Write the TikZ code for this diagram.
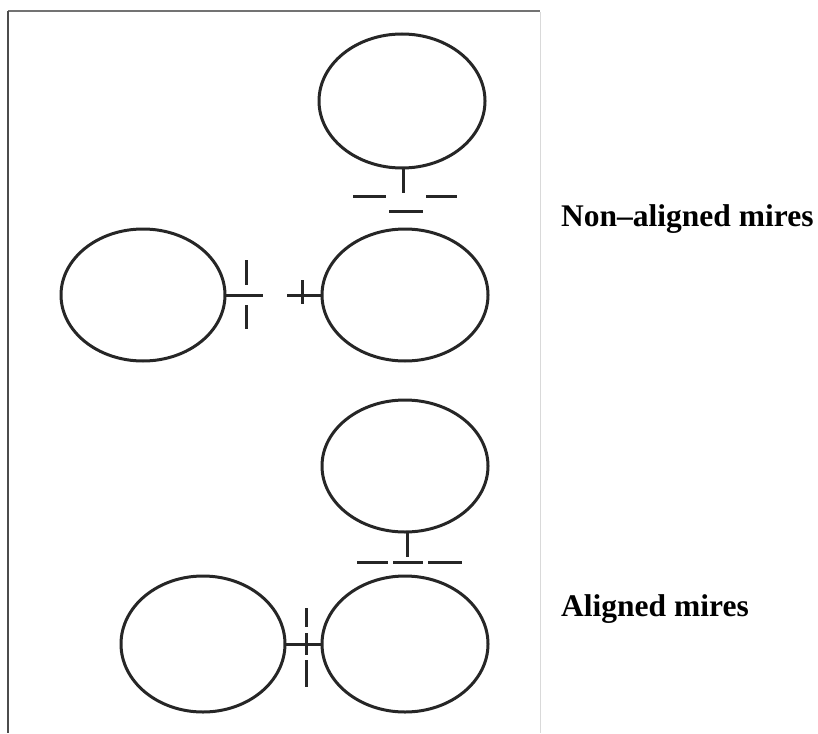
\documentclass[tikz,border=0pt]{standalone}
\usepackage{fontspec}
\setmainfont{Liberation Serif}
\begin{document}
\begin{tikzpicture}[x=1pt,y=-1pt,
  ring/.style={draw=black!85,line width=3pt},
  mire/.style={draw=black!85,line width=3pt},
  lbl/.style={inner sep=0pt,anchor=base west,font=\fontsize{31.5}{38}\selectfont\bfseries}]
\useasboundingbox (0,0) rectangle (818,733);
% frame
\draw[black!55,line width=2.4pt] (8,11) -- (540,11);
\draw[black!70,line width=2pt] (8,11) -- (8,733);
\draw[black!15,line width=1pt] (540,12) -- (540,733);
% ellipses
\draw[ring] (402,101) ellipse [x radius=83,y radius=67];
\draw[ring] (143,295) ellipse [x radius=82,y radius=66];
\draw[ring] (405,295) ellipse [x radius=83,y radius=66];
\draw[ring] (405,466) ellipse [x radius=83,y radius=66];
\draw[ring] (203,644) ellipse [x radius=82,y radius=68];
\draw[ring] (405,644) ellipse [x radius=83,y radius=68];
% non-aligned mires: top
\draw[mire] (403,168) -- (403,193);
\draw[mire] (353,196) -- (386,196);
\draw[mire] (426,196) -- (457,196);
\draw[mire] (389,211) -- (423,211);
% non-aligned mires: side
\draw[mire] (225,295) -- (263,295);
\draw[mire] (246,260) -- (246,285);
\draw[mire] (246,305) -- (246,329);
\draw[mire] (287,295) -- (322,295);
\draw[mire] (302,280) -- (302,304);
% aligned mires: top
\draw[mire] (407,532) -- (407,557);
\draw[mire] (357,562) -- (388,562);
\draw[mire] (393,562) -- (423,562);
\draw[mire] (428,562) -- (462,562);
% aligned mires: side
\draw[mire] (285,644) -- (322,644);
\draw[mire] (306,608) -- (306,627);
\draw[mire] (306,633) -- (306,655);
\draw[mire] (306,660) -- (306,687);
% labels
\node[lbl] (na) at (561,226) {Non–aligned mires};
\node[lbl] (al) at (561,616) {Aligned mires};
\end{tikzpicture}
\end{document}
